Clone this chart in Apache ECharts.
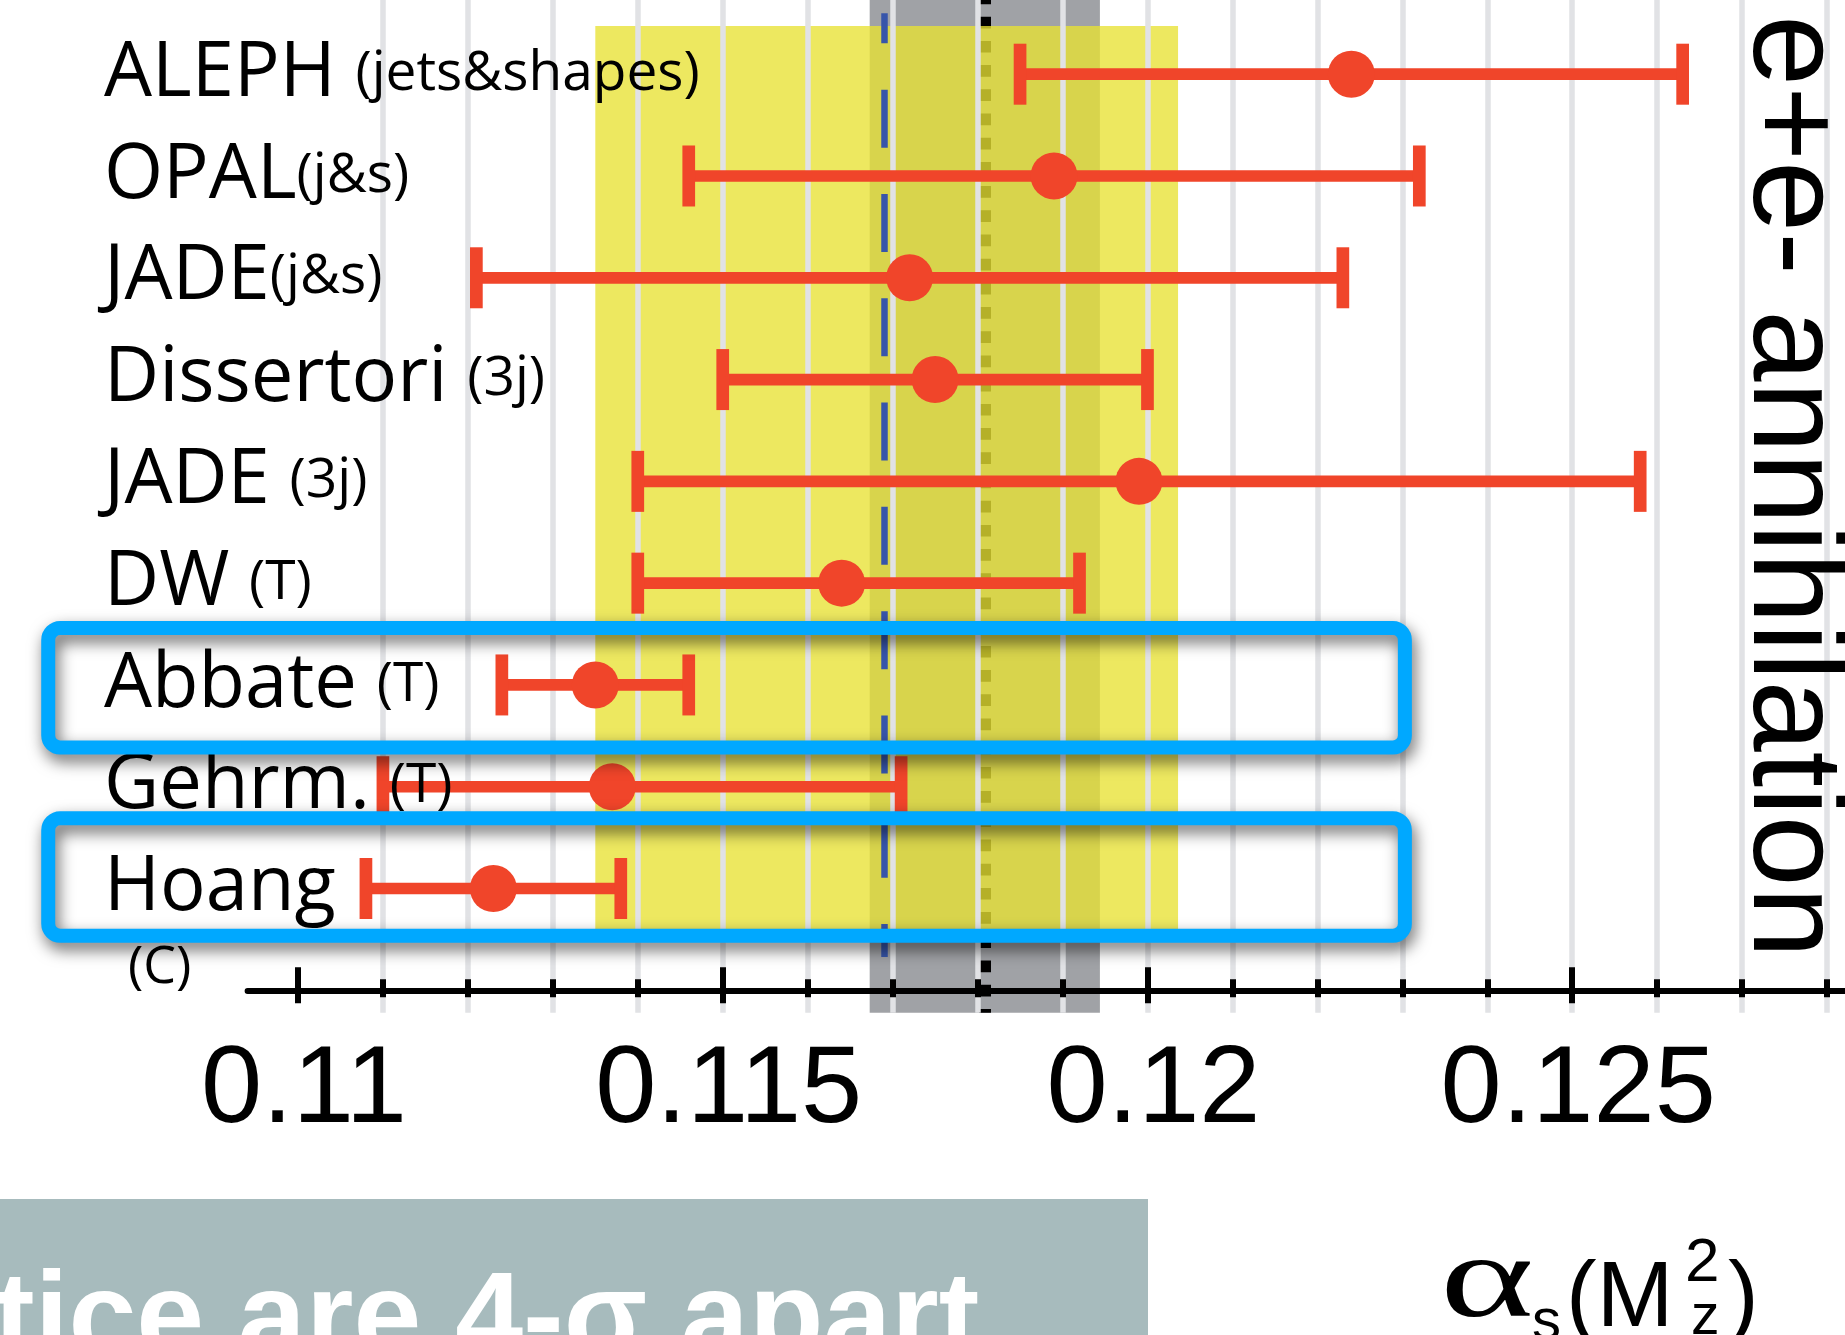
<!DOCTYPE html>
<html>
<head>
<meta charset="utf-8">
<script src="https://cdn.jsdelivr.net/npm/echarts@6.0.0/dist/echarts.min.js"></script>
<style>
html, body { margin:0; padding:0; background:#ffffff; }
#chart { width:1845px; height:1335px; }
</style>
</head>
<body>
<div id="chart"></div>
<script>
// ---------------- data ----------------
const rowNames   = ['ALEPH ', 'OPAL', 'JADE', 'Dissertori ', 'JADE ', 'DW ', 'Abbate ', 'Gehrm. ', 'Hoang'];
const rowMethods = ['(jets&shapes)', '(j&s)', '(j&s)', '(3j)', '(3j)', '(T)', '(T)', '(T)', ''];
const rowNotes   = ['', '', '', '', '', '', '', '', '(C)'];   // second-line note under a name
const alphaCentral = [0.1224, 0.1189, 0.1172, 0.1175, 0.1199, 0.1164, 0.1135, 0.1137, 0.1123];
const alphaLow     = [0.1185, 0.1146, 0.1121, 0.1150, 0.1140, 0.1140, 0.1124, 0.1110, 0.1108];
const alphaHigh    = [0.1263, 0.1232, 0.1223, 0.1200, 0.1258, 0.1192, 0.1146, 0.1171, 0.1138];
const majorTickValues = [0.110, 0.115, 0.120, 0.125];
const majorTickLabels = ['0.11', '0.115', '0.12', '0.125'];
const minorTickValues = [0.111, 0.112, 0.113, 0.114, 0.115, 0.116, 0.117, 0.118, 0.119, 0.120,
                         0.121, 0.122, 0.123, 0.124, 0.125, 0.126, 0.127, 0.128];
const eeAverage    = [0.1135, 0.1169, 0.12036];    // low, central, high : yellow band + blue dashed line
const worldAverage = [0.11673, 0.11809, 0.11944];  // low, central, high : grey band + black dotted line
const highlightedRows = ['Abbate ', 'Hoang'];
const sideTitle = 'e+e- annihilation';
const bannerText = 'tice are 4-\u03c3 apart';

// ---------------- layout ----------------
const GRID_LEFT = 247.6, GRID_TOP = 0, GRID_W = 1845 - 247.6, GRID_H = 1012.7;
const X_MIN = 0.109407, X_MAX = 0.128211;
const ROW0_PX = 74.2, ROW_STEP = 101.79;
const Y_MIN = -ROW0_PX / ROW_STEP, Y_MAX = (GRID_H - ROW0_PX) / ROW_STEP;
const AXIS_ROW = 9;
const AXIS_OFFSET = ROW0_PX + AXIS_ROW * ROW_STEP - GRID_H;
const YELLOW_ROWS = [-0.4735, 8.457];
const BLUE_ROWS = [-0.598, 8.673];
const BOX_X = [0.10706, 0.12303];
const BOX_ROWS = [[-0.559, 0.615], [-0.690, 0.464]];
const LABEL_X = 104, NOTE_X = 128;
const RED = '#f0452a';
const BAR_T = 11.7, CAP_W = 12.7, CAP_H = 61, DOT_R = 23.5;

const rowIdx = rowNames.map((_, i) => i);
const noteIdx = rowIdx.filter(i => rowNotes[i]);

const chart = echarts.init(document.getElementById('chart'), null, {renderer: 'canvas', width: 1845, height: 1335});

function xAxisDef(extra) {
  const base = {
    type: 'value', gridIndex: 0, min: X_MIN, max: X_MAX, position: 'bottom', offset: AXIS_OFFSET, z: 6,
    splitLine: {show: false},
    minorSplitLine: {show: false},
    axisLine: {show: false, onZero: false},
    axisTick: {show: false},
    axisLabel: {show: false}
  };
  return Object.assign(base, extra);
}
function yAxisDef(extra) {
  const base = {
    type: 'value', gridIndex: 0, inverse: true, min: Y_MIN, max: Y_MAX, position: 'left', offset: 0, z: 8,
    axisLine: {show: false, onZero: false},
    axisTick: {show: false},
    splitLine: {show: false}
  };
  return Object.assign(base, extra);
}

const tickStyle = {color: '#000', width: 6, cap: 'butt'};

function vLine(x, y0, y1) {
  return [{coord: [x, y0]}, {coord: [x, y1]}];
}

const option = {
  animation: false,
  backgroundColor: '#ffffff',
  grid: {left: GRID_LEFT, top: GRID_TOP, width: GRID_W, height: GRID_H, containLabel: false, outerBoundsMode: 'none'},
  xAxis: [
    xAxisDef({
      axisLine: {show: true, onZero: false, lineStyle: {color: '#000', width: 6}},
      axisTick: {show: true, customValues: majorTickValues, length: 13, lineStyle: tickStyle},
      axisLabel: {
        show: true, customValues: majorTickValues, margin: 46, padding: [0, 0, 0, 12],
        showMinLabel: true, showMaxLabel: true,
        formatter: function (v) {
          const i = majorTickValues.findIndex(t => Math.abs(t - v) < 1e-9);
          return i >= 0 ? majorTickLabels[i] : '';
        },
        color: '#000', fontFamily: 'Liberation Sans', fontSize: 110
      }
    }),
    xAxisDef({axisTick: {show: true, inside: true, customValues: majorTickValues, length: 23, lineStyle: tickStyle}}),
    xAxisDef({axisTick: {show: true, customValues: minorTickValues, length: 7, lineStyle: tickStyle}}),
    xAxisDef({axisTick: {show: true, inside: true, customValues: minorTickValues, length: 11, lineStyle: tickStyle}})
  ],
  yAxis: [
    yAxisDef({
      axisLabel: {
        show: true,
        customValues: rowIdx,
        showMinLabel: true, showMaxLabel: true, hideOverlap: false,
        formatter: function (v) {
          const i = Math.round(v);
          if (rowNames[i] == null) return '';
          return '{a|' + rowNames[i] + '}' + (rowMethods[i] ? '{b|' + rowMethods[i] + '}' : '');
        },
        align: 'left',
        margin: GRID_LEFT - LABEL_X,
        color: '#000', fontFamily: 'Open Sans', fontSize: 55, lineHeight: 90,
        rich: {
          a: {fontFamily: 'Open Sans', fontSize: 76, lineHeight: 90, color: '#000'},
          b: {fontFamily: 'Open Sans', fontSize: 55, lineHeight: 90, color: '#000'}
        }
      }
    }),
    yAxisDef({
      axisLabel: {
        show: true,
        customValues: noteIdx,
        showMinLabel: true, showMaxLabel: true, hideOverlap: false,
        formatter: function (v) { return rowNotes[Math.round(v)] || ''; },
        align: 'left',
        verticalAlign: 'top',
        margin: GRID_LEFT - NOTE_X,
        color: '#000', fontFamily: 'Open Sans', fontSize: 52, lineHeight: 160
      }
    })
  ],
  series: [
    { // grey band (world average)
      type: 'line', data: [], silent: true,
      markArea: {z: 1, silent: true, label: {show: false}, itemStyle: {color: '#a0a2a6'},
        data: [[{xAxis: worldAverage[0]}, {xAxis: worldAverage[2]}]]}
    },
    { // black dotted central line
      type: 'line', data: [], silent: true,
      markLine: {z: 2, silent: true, symbol: 'none', precision: 8, label: {show: false},
        lineStyle: {color: '#000', width: 12, type: [11.7, 12.5], dashOffset: 7.5, cap: 'butt'},
        data: [vLine(worldAverage[1], Y_MIN, Y_MAX)]}
    },
    { // yellow band (e+e- average)
      type: 'line', data: [], silent: true,
      markArea: {z: 3, silent: true, label: {show: false}, itemStyle: {color: 'rgba(232,226,51,0.78)'},
        data: [[{xAxis: eeAverage[0], yAxis: YELLOW_ROWS[0]}, {xAxis: eeAverage[2], yAxis: YELLOW_ROWS[1]}]]}
    },
    { // vertical grid lines
      type: 'line', data: [], silent: true,
      markLine: {z: 4, silent: true, symbol: 'none', precision: 8, label: {show: false},
        lineStyle: {color: '#e1e2e5', width: 5.5, type: 'solid', cap: 'butt'},
        data: minorTickValues.map(v => vLine(v, Y_MIN, Y_MAX))}
    },
    { // blue dashed central line
      type: 'line', data: [], silent: true,
      markLine: {z: 5, silent: true, symbol: 'none', precision: 8, label: {show: false},
        lineStyle: {color: '#3755aa', width: 6.5, type: [58, 46.3], dashOffset: 28, cap: 'butt'},
        data: [vLine(eeAverage[1], BLUE_ROWS[0], BLUE_ROWS[1])]}
    },
    { // error bars
      type: 'custom', z: 7, silent: true,
      encode: {x: [1, 2, 3], y: 0},
      data: rowIdx.map(i => [i, alphaLow[i], alphaCentral[i], alphaHigh[i]]),
      renderItem: function (params, api) {
        const row = api.value(0);
        const pL = api.coord([api.value(1), row]);
        const pC = api.coord([api.value(2), row]);
        const pH = api.coord([api.value(3), row]);
        return {
          type: 'group',
          children: [
            {type: 'rect', shape: {x: pL[0], y: pL[1] - BAR_T / 2, width: pH[0] - pL[0], height: BAR_T}, style: {fill: RED}},
            {type: 'rect', shape: {x: pL[0] - CAP_W / 2, y: pL[1] - CAP_H / 2, width: CAP_W, height: CAP_H}, style: {fill: RED}},
            {type: 'rect', shape: {x: pH[0] - CAP_W / 2, y: pH[1] - CAP_H / 2, width: CAP_W, height: CAP_H}, style: {fill: RED}},
            {type: 'circle', shape: {cx: pC[0], cy: pC[1], r: DOT_R}, style: {fill: RED}}
          ]
        };
      }
    }
  ]
};
chart.setOption(option);

// ---------- annotations (boxes from data coordinates, texts) ----------
const boxes = highlightedRows.map(function (lab, k) {
  const i = rowNames.indexOf(lab);
  const p0 = chart.convertToPixel({xAxisIndex: 0, yAxisIndex: 0}, [BOX_X[0], i + BOX_ROWS[k][0]]);
  const p1 = chart.convertToPixel({xAxisIndex: 0, yAxisIndex: 0}, [BOX_X[1], i + BOX_ROWS[k][1]]);
  return {
    type: 'rect', z: 100, silent: true,
    shape: {x: p0[0], y: p0[1], width: p1[0] - p0[0], height: p1[1] - p0[1], r: 12},
    style: {fill: null, stroke: '#00a8ff', lineWidth: 14,
            shadowBlur: 16, shadowColor: 'rgba(0,0,0,0.6)', shadowOffsetX: 3, shadowOffsetY: 7}
  };
});

function txt(text, x, y, font, fill, extra) {
  return Object.assign({
    type: 'text', x: x, y: y, z: 50, silent: true,
    style: {text: text, font: font, fill: fill, align: 'left', verticalAlign: 'middle',
            textAlign: 'left', textVerticalAlign: 'middle'}
  }, extra || {});
}

chart.setOption({
  graphic: [
    {type: 'rect', z: 40, silent: true, shape: {x: 0, y: 1199, width: 1148, height: 140}, style: {fill: '#a7bbbd'}},
    txt(bannerText, -6, 1323, 'bold 122px "Liberation Sans"', '#ffffff'),
    txt(sideTitle, 1789, 15, '128px "Liberation Sans"', '#000000', {rotation: -Math.PI / 2}),
    txt('\u03b1', 1440, 1285, '128px "Liberation Serif"', '#000000', {scaleX: 1.4, scaleY: 0.93}),
    txt('s', 1532, 1323, '58px "Liberation Sans"', '#000000'),
    txt('(M', 1566, 1301, '92px "Liberation Sans"', '#000000'),
    txt('2', 1685, 1264, '62px "Liberation Sans"', '#000000'),
    txt('z', 1691, 1318, '57px "Liberation Sans"', '#000000'),
    txt(')', 1728, 1301, '92px "Liberation Sans"', '#000000')
  ].concat(boxes)
});
</script>
</body>
</html>
